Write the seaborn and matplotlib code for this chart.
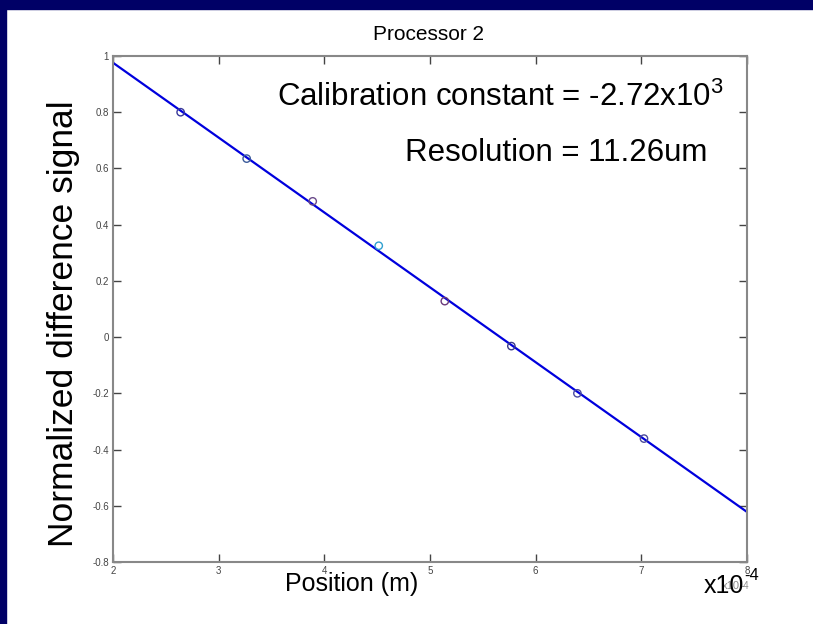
import matplotlib
matplotlib.use("Agg")
import matplotlib.pyplot as plt
import seaborn as sns
import pandas as pd
import numpy as np

# Data (position in units of 1e-4 m)
position = [2.64, 3.265, 3.89, 4.515, 5.14, 5.77, 6.395, 7.025]
signal = [0.80, 0.635, 0.483, 0.325, 0.128, -0.032, -0.20, -0.361]
marker_colors = ["#3a3a9a", "#3a5a9a", "#6a4a8a", "#30a0d0", "#6a3a7a", "#3a3a8a", "#4a4aa0", "#4a4a9a"]
fit_x = [2.0, 8.0]
fit_y = [0.976, -0.622]
xticks = [2, 3, 4, 5, 6, 7, 8]
yticks = [-0.8, -0.6, -0.4, -0.2, 0, 0.2, 0.4, 0.6, 0.8, 1]
ytick_labels = ["-0.8", "-0.6", "-0.4", "-0.2", "0", "0.2", "0.4", "0.6", "0.8", "1"]

sns.set_theme(style="white")
plt.rcParams['font.family'] = ['Liberation Sans', 'DejaVu Sans']
plt.rcParams['axes.unicode_minus'] = False

fig = plt.figure(figsize=(8.13, 6.24), dpi=100)
navy = "#000066"
fig.patches.append(matplotlib.patches.Rectangle((0, 1 - 9/624), 1, 9/624, transform=fig.transFigure, color=navy, zorder=0))
fig.patches.append(matplotlib.patches.Rectangle((0, 0), 6/813, 1, transform=fig.transFigure, color=navy, zorder=0))

ax = fig.add_axes([113/813, 1 - 562/624, (747 - 113)/813, (562 - 56)/624])

df_pts = pd.DataFrame({"pos": position, "sig": signal})
df_fit = pd.DataFrame({"pos": fit_x, "sig": fit_y})

sns.lineplot(data=df_fit, x="pos", y="sig", ax=ax, color="#0000dd", linewidth=1.6, zorder=2)
sns.scatterplot(data=df_pts, x="pos", y="sig", ax=ax, marker="o", s=28,
                facecolors="none", edgecolor=marker_colors, linewidth=1.0, zorder=3)

ax.set_xlim(2, 8)
ax.set_ylim(-0.8, 1)
ax.set_xticks(xticks)
ax.set_xticklabels([str(t) for t in xticks])
ax.set_yticks(yticks)
ax.set_yticklabels(ytick_labels)
ax.tick_params(direction="in", length=6, width=1, colors="#444444", labelsize=7,
               top=True, right=True, bottom=True, left=True, pad=3)
for s in ax.spines.values():
    s.set_color("#888888")
    s.set_linewidth(1.5)

ax.set_xlabel("")
ax.set_ylabel("")

fig.text(428/813, 1 - 35/624, "Processor 2", ha="center", va="center", fontsize=15, color="black")
fig.text(352/813, 1 - 584/624, "Position (m)", ha="center", va="center", fontsize=18, color="black")
# small original matlab exponent label, under the big one
fig.text(731/813, 1 - 586/624, "x10", ha="center", va="center", fontsize=8, color="#888888")
fig.text(745/813, 1 - 586/624, "-4", ha="center", va="center", fontsize=7, color="#888888")
fig.text(724/813, 1 - 586/624, "x10", ha="center", va="center", fontsize=18, color="black")
fig.text(752/813, 1 - 576/624, "-4", ha="center", va="center", fontsize=12, color="black")
fig.text(64/813, 1 - 324/624, "Normalized difference signal", ha="center", va="center",
         rotation=90, fontsize=25.5, color="black")

ax.text(0.962, 0.919, r"Calibration constant = -2.72x10$^{\mathregular{3}}$", transform=ax.transAxes,
        ha="right", va="center", fontsize=22.5, color="black")
ax.text(0.938, 0.808, "Resolution = 11.26um", transform=ax.transAxes,
        ha="right", va="center", fontsize=22.5, color="black")

fig.savefig("out.png", dpi=100)
